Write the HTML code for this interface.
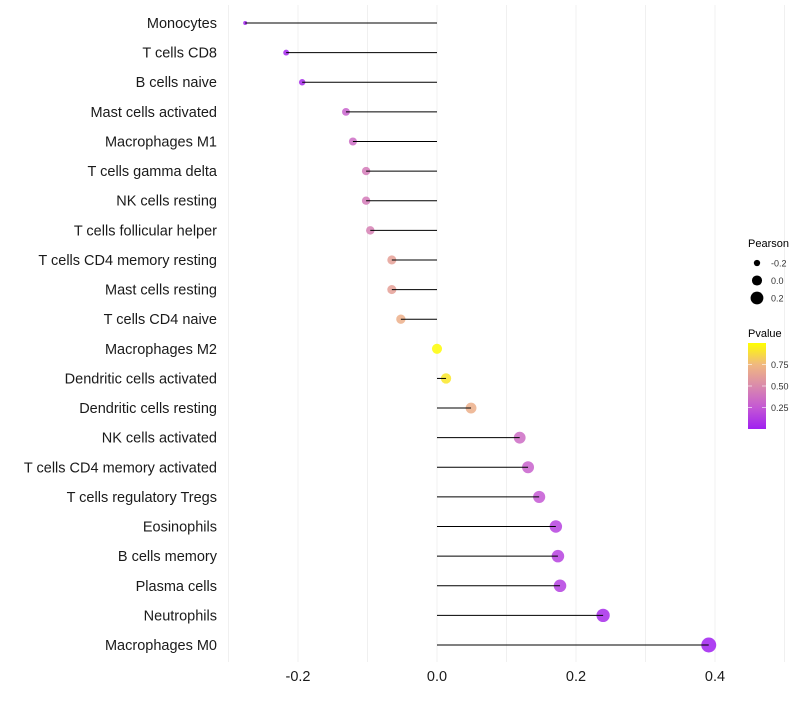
<!DOCTYPE html>
<html><head><meta charset="utf-8"><style>
body{margin:0;background:#fff;font-family:"Liberation Sans",sans-serif}
</style></head><body>
<svg id="chart" width="800" height="700" xmlns="http://www.w3.org/2000/svg"></svg>
<script>
const categories=["Monocytes","T cells CD8","B cells naive","Mast cells activated","Macrophages M1","T cells gamma delta","NK cells resting","T cells follicular helper","T cells CD4 memory resting","Mast cells resting","T cells CD4 naive","Macrophages M2","Dendritic cells activated","Dendritic cells resting","NK cells activated","T cells CD4 memory activated","T cells regulatory  Tregs","Eosinophils","B cells memory","Plasma cells","Neutrophils","Macrophages M0"];
const pearson=[-0.276,-0.217,-0.194,-0.131,-0.121,-0.102,-0.102,-0.096,-0.065,-0.065,-0.052,0.0,0.013,0.049,0.119,0.131,0.147,0.171,0.174,0.177,0.239,0.391];
const pvalue=[0.01,0.03,0.05,0.3,0.35,0.42,0.42,0.45,0.62,0.62,0.7,0.99,0.92,0.7,0.35,0.3,0.25,0.15,0.15,0.14,0.05,0.002];
const xTicks=[-0.2,0,0.2,0.4];
const xTickLabels=["-0.2","0.0","0.2","0.4"];
const gridVals=[-0.3,-0.2,-0.1,0,0.1,0.2,0.3,0.4,0.5];
const sizeLegendVals=[-0.2,0,0.2];
const pLegendTicks=[0.25,0.5,0.75];

const NS="http://www.w3.org/2000/svg";
const svg=document.getElementById('chart');
function el(t,a,p){const e=document.createElementNS(NS,t);for(const k in a)e.setAttribute(k,a[k]);(p||svg).appendChild(e);return e;}
const x=v=>437+v*695;
const y=i=>23+i*(622/21);
const r=v=>Math.sqrt(Math.max(1,4+(v+0.276)*78));
const stops=[[0,[160,32,240]],[0.25,[196,88,212]],[0.5,[218,138,172]],[0.75,[240,184,128]],[1,[255,255,0]]];
function col(p){for(let i=0;i<stops.length-1;i++){const a=stops[i],b=stops[i+1];if(p<=b[0]){const t=(p-a[0])/(b[0]-a[0]);return 'rgb('+a[1].map((c,j)=>Math.round(c+(b[1][j]-c)*t)).join(',')+')';}}return 'rgb(255,255,0)';}

gridVals.forEach(v=>{const g=el('line',{x1:x(v),x2:x(v),y1:5,y2:662,stroke:'#f0f0f0','stroke-width':1});

});

categories.forEach((c,i)=>{
 const cy=y(i);
 const pt=el('circle',{cx:x(pearson[i]),cy:cy,r:r(pearson[i]),fill:col(pvalue[i]),'fill-opacity':0.85});
 
 
 const ln=el('line',{x1:x(0),x2:x(pearson[i]),y1:cy,y2:cy,stroke:'#000','stroke-width':1});
 
 
 const t=el('text',{x:217,y:cy+5,'text-anchor':'end','font-size':14.5,fill:'#1a1a1a'});
 t.textContent=c;
 
 
});
xTicks.forEach((v,i)=>{const t=el('text',{x:x(v),y:681,'text-anchor':'middle','font-size':14.5,fill:'#1a1a1a'});t.textContent=xTickLabels[i];

});

const lt=el('text',{x:748,y:247,'font-size':11,fill:'#000'});lt.textContent='Pearson';


sizeLegendVals.forEach((v,i)=>{const cy=263+i*17.5;
 const c=el('circle',{cx:757,cy:cy,r:r(v),fill:'#000'});
 
 
 const t=el('text',{x:771,y:cy+3.5,'font-size':9,fill:'#333'});t.textContent=xTickLabels[i];
 
 });

const pt2=el('text',{x:748,y:337,'font-size':11,fill:'#000'});pt2.textContent='Pvalue';


const defs=el('defs',{});const lg=el('linearGradient',{id:'pg',x1:0,y1:1,x2:0,y2:0},defs);
stops.forEach(s=>el('stop',{offset:s[0],'stop-color':'rgb('+s[1].join(',')+')'},lg));
const bar=el('rect',{x:748,y:343,width:18,height:86,fill:'url(#pg)'});


pLegendTicks.forEach(v=>{const cy=429-v*86;
 el('line',{x1:748,x2:752,y1:cy,y2:cy,stroke:'#fff','stroke-opacity':0.6});
 el('line',{x1:762,x2:766,y1:cy,y2:cy,stroke:'#fff','stroke-opacity':0.6});
 const t=el('text',{x:771,y:cy+3.5,'font-size':9,fill:'#333'});t.textContent=v.toFixed(2);
 
 });
</script>
</body></html>
